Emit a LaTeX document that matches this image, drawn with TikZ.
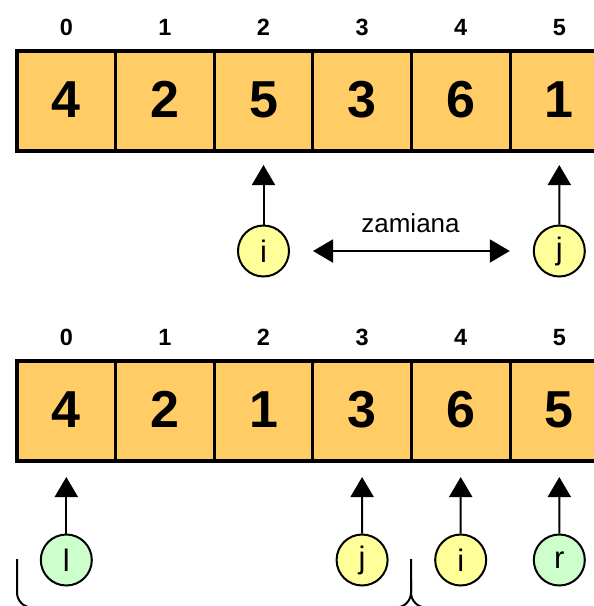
\documentclass[tikz,border=0pt]{standalone}
\usepackage{fontspec}
\setmainfont{Liberation Sans}
\usetikzlibrary{arrows.meta}
\definecolor{cellfill}{RGB}{255,204,102}
\definecolor{ptryellow}{RGB}{255,255,153}
\definecolor{ptrgreen}{RGB}{204,255,204}
\begin{document}
\begin{tikzpicture}[x=1pt,y=-1pt,
  cell/.style={draw, line width=3pt, fill=cellfill, outer sep=0pt, inner sep=0pt,
    minimum width=98.6pt, minimum height=100pt, text height=37.2pt, text depth=5pt,
    font=\fontsize{52}{52}\selectfont\bfseries},
  frame/.style={line width=4pt},
  idx/.style={anchor=base, font=\fontsize{23.5}{24}\selectfont\bfseries},
  ptr/.style={circle, draw, line width=2pt, minimum size=51pt, inner sep=0pt,
    font=\fontsize{31}{31}\selectfont},
  ptri/.style={ptr, fill=ptryellow},
  ptrb/.style={ptr, fill=ptrgreen},
  link/.style={line width=2pt, -{Triangle[length=20pt,width=23pt]}},
  swaplink/.style={line width=2pt, {Triangle[length=20pt,width=23pt]}-{Triangle[length=20pt,width=23pt]}},
  brace/.style={line width=2pt, rounded corners=15pt},
]
\useasboundingbox (0,0) rectangle (594,606);
\clip (0,0) rectangle (594,606);

% array before the swap
\foreach \v [count=\k from 0] in {4,2,5,3,6,1} {
  \node[cell] (a\k) at (66.3+98.6*\k,101) {\v};
  \node[idx] (ai\k) at (66.3+98.6*\k,35) {\k};
}
\draw[frame] (a0.north west) rectangle (a5.south east);

% array after the swap
\foreach \v [count=\k from 0] in {4,2,1,3,6,5} {
  \node[cell] (b\k) at (66.3+98.6*\k,411) {\v};
  \node[idx] (bi\k) at (66.3+98.6*\k,345) {\k};
}
\draw[frame] (b0.north west) rectangle (b5.south east);

% pointers i and j exchanging elements
\node[ptri] (ti) at (263.5,251) {i};
\node[ptri] (tj) at (559.3,251) {j};
\draw[link, shorten >=14pt] (ti) -- (a2);
\draw[link, shorten >=14pt] (tj) -- (a5);
\draw[swaplink, shorten <=23pt, shorten >=23pt] (ti) -- (tj);
\node[anchor=base, font=\fontsize{26}{26}\selectfont] (swap) at (410.5,232) {zamiana};

% pointers after partitioning
\node[ptrb] (pl) at (66.3,560) {l};
\node[ptri] (pj) at (362.1,560) {j};
\node[ptri] (pi) at (460.7,560) {i};
\node[ptrb] (pr) at (559.3,560) {r};
\draw[link, shorten >=16pt] (pl) -- (b0);
\draw[link, shorten >=16pt] (pj) -- (b3);
\draw[link, shorten >=16pt] (pi) -- (b4);
\draw[link, shorten >=16pt] (pr) -- (b5);

% braces under the two parts
\draw[brace] (17,559) -- (17,607.5) -- (411,607.5) -- (411,559);
\draw[brace] (411,580) -- (411,607.5) -- (650,607.5);
\end{tikzpicture}
\end{document}
